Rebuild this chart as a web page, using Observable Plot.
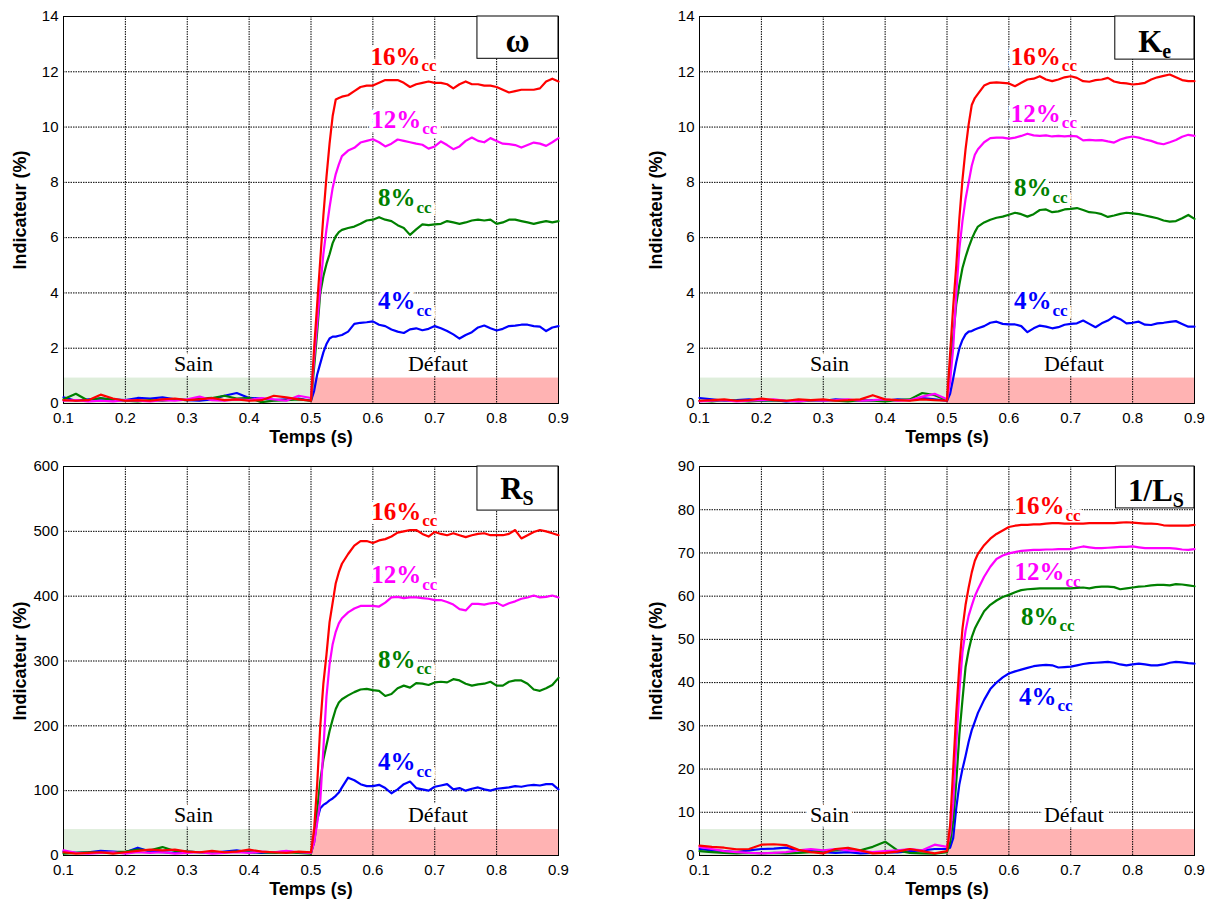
<!DOCTYPE html>
<html>
<head>
<meta charset="utf-8">
<script src="https://cdn.jsdelivr.net/npm/d3@7"></script>
<script src="https://cdn.jsdelivr.net/npm/@observablehq/plot@0.6"></script>
<style>
  body { margin: 0; background: #fff; overflow: hidden; }
  #chart { position: relative; width: 1206px; height: 899px; }
  #chart svg { position: absolute; overflow: visible; }
</style>
</head>
<body>
<div id="chart"></div>
<script>
// ---------- time axis (s) ----------
const time = [0.10,0.12,0.14,0.16,0.18,0.20,0.22,0.24,0.26,0.28,0.30,0.32,0.34,0.36,0.38,0.40,0.42,0.44,0.46,0.48,0.50,
  0.505,0.51,0.515,0.52,0.525,0.53,0.535,0.54,0.545,0.55,
  0.56,0.57,0.58,0.59,0.60,0.61,0.62,0.63,0.64,0.65,0.66,0.67,0.68,0.69,0.70,0.71,0.72,0.73,0.74,0.75,
  0.76,0.77,0.78,0.79,0.80,0.81,0.82,0.83,0.84,0.85,0.86,0.87,0.88,0.89,0.90];

const xTicks = [0.1,0.2,0.3,0.4,0.5,0.6,0.7,0.8,0.9];
const yTicksOmega = [0,2,4,6,8,10,12,14];
const yTicksKe = [0,2,4,6,8,10,12,14];
const yTicksRs = [0,100,200,300,400,500,600];
const yTicksLs = [0,10,20,30,40,50,60,70,80,90];

const seriesNames = ["4%","8%","12%","16%"];
const seriesColors = ["#0000ff","#008000","#ff00ff","#ff0000"];

// ---------- ω panel ----------
const omega4 = [0.22,0.10,0.15,0.18,0.15,0.12,0.20,0.18,0.22,0.15,0.12,0.10,0.15,0.28,0.38,0.20,0.18,0.12,0.15,0.18,0.10,
  0.45,1.05,1.45,1.85,2.15,2.35,2.42,2.42,2.45,2.48,
  2.6,2.88,2.92,2.94,2.97, 2.85,2.8,2.68,2.6,2.55, 2.68,2.72,2.65,2.7,2.8, 2.72,2.62,2.5,2.35,2.48,
  2.58,2.75,2.82,2.72,2.64, 2.7,2.8,2.82,2.85,2.85, 2.8,2.78,2.62,2.75,2.8];
const omega8 = [0.15,0.35,0.10,0.20,0.12,0.10,0.08,0.12,0.10,0.15,0.12,0.18,0.20,0.28,0.18,0.20,0.05,0.10,0.12,0.15,0.10,
  1.3,2.6,4.0,4.6,5.05,5.4,5.8,6.05,6.2,6.28,
  6.35,6.4,6.5,6.62,6.65, 6.74,6.65,6.6,6.45,6.35, 6.1,6.3,6.48,6.45,6.48, 6.5,6.6,6.55,6.5,6.55,
  6.62,6.65,6.62,6.65,6.5, 6.55,6.65,6.65,6.6,6.55, 6.5,6.55,6.6,6.55,6.6];
const omega12 = [0.10,0.12,0.08,0.10,0.08,0.12,0.10,0.08,0.12,0.10,0.15,0.25,0.12,0.10,0.15,0.12,0.20,0.15,0.10,0.28,0.20,
  1.6,2.9,4.2,5.4,6.3,7.1,7.8,8.3,8.65,8.95,
  9.15,9.25,9.44,9.5,9.56, 9.45,9.3,9.4,9.55,9.5, 9.45,9.4,9.36,9.22,9.3, 9.48,9.35,9.2,9.3,9.5,
  9.62,9.5,9.45,9.6,9.5, 9.4,9.38,9.35,9.26,9.35, 9.44,9.4,9.32,9.45,9.6];
const omega16 = [0.12,0.10,0.12,0.32,0.18,0.10,0.12,0.10,0.15,0.18,0.12,0.15,0.20,0.12,0.15,0.10,0.12,0.28,0.22,0.15,0.10,
  2.0,3.6,5.2,6.8,8.2,9.4,10.4,11.0,11.05,11.1,
  11.15,11.3,11.45,11.5,11.5, 11.6,11.7,11.7,11.7,11.6, 11.45,11.55,11.6,11.65,11.6, 11.6,11.55,11.4,11.55,11.65,
  11.55,11.55,11.5,11.5,11.45, 11.35,11.25,11.3,11.35,11.35, 11.35,11.4,11.65,11.75,11.65];

// ---------- Ke panel ----------
const ke4 = [0.20,0.15,0.10,0.12,0.15,0.10,0.12,0.08,0.10,0.12,0.10,0.15,0.12,0.10,0.12,0.10,0.15,0.12,0.20,0.15,0.10,
  0.35,0.9,1.5,2.0,2.3,2.5,2.6,2.62,2.68,2.72,
  2.8,2.92,2.96,2.88,2.86, 2.86,2.8,2.58,2.72,2.82, 2.78,2.72,2.76,2.85,2.88, 2.9,3.0,2.88,2.76,2.9,
  3.0,3.15,3.05,2.9,2.92, 2.96,2.85,2.84,2.9,2.92, 2.95,2.98,2.88,2.78,2.78];
const ke8 = [0.10,0.08,0.12,0.10,0.08,0.10,0.12,0.10,0.08,0.10,0.12,0.10,0.08,0.12,0.10,0.08,0.12,0.15,0.38,0.30,0.12,
  1.2,2.4,3.6,4.3,4.9,5.3,5.65,5.95,6.2,6.4,
  6.55,6.65,6.72,6.76,6.83, 6.9,6.85,6.76,6.85,7.0, 7.02,6.92,6.95,7.02,7.04, 7.07,7.0,6.92,6.9,6.85,
  6.75,6.8,6.86,6.9,6.88, 6.85,6.8,6.75,6.7,6.62, 6.58,6.6,6.7,6.82,6.68];
const ke12 = [0.08,0.10,0.12,0.08,0.10,0.12,0.15,0.10,0.08,0.12,0.10,0.12,0.15,0.10,0.12,0.15,0.10,0.12,0.25,0.35,0.15,
  0.8,2.0,4.0,5.6,6.6,7.4,8.0,8.6,9.0,9.2,
  9.45,9.6,9.62,9.62,9.58, 9.62,9.68,9.76,9.7,9.68, 9.7,9.66,9.68,9.66,9.68, 9.66,9.52,9.54,9.52,9.53,
  9.48,9.44,9.55,9.62,9.66, 9.62,9.55,9.5,9.42,9.38, 9.45,9.53,9.65,9.72,9.68];
const ke16 = [0.10,0.12,0.15,0.10,0.12,0.18,0.12,0.10,0.15,0.12,0.15,0.10,0.12,0.15,0.30,0.15,0.12,0.10,0.15,0.12,0.10,
  1.8,3.5,5.0,6.7,8.1,9.2,10.1,10.8,11.05,11.2,
  11.5,11.6,11.62,11.6,11.58, 11.48,11.6,11.72,11.75,11.84, 11.72,11.66,11.72,11.8,11.84, 11.78,11.66,11.64,11.7,11.72,
  11.78,11.65,11.6,11.58,11.54, 11.56,11.6,11.72,11.8,11.85, 11.9,11.8,11.7,11.66,11.66];

// ---------- Rs panel ----------
const rs4 = [6,4,5,7,6,5,12,6,5,4,6,5,4,6,8,5,4,5,6,5,4,
  20,55,73,78,81,85,88,92,97,105,
  120,116,110,107,107, 109,104,96,102,110, 114,104,102,100,106, 108,110,102,104,100,
  103,105,102,100,103, 104,105,107,106,108, 109,108,110,110,102];
const rs8 = [3,4,5,4,5,6,9,8,13,7,6,5,4,5,6,5,5,4,5,4,3,
  25,70,115,148,170,192,210,226,236,241,
  247,252,256,257,255, 254,246,249,258,262, 259,266,265,263,267, 268,267,272,270,265,
  262,264,265,268,262, 262,268,270,270,265, 256,254,258,263,274];
const rs12 = [8,4,3,4,5,3,5,4,5,3,4,5,3,4,5,4,6,5,7,5,4,
  20,50,85,165,245,295,326,345,358,366,
  375,381,385,385,385, 384,390,398,399,397, 398,398,397,396,394, 394,391,387,380,378,
  388,388,387,389,390, 385,389,392,396,398, 401,398,399,401,398];
const rs16 = [5,3,4,5,3,5,7,9,8,9,6,5,7,5,6,9,6,5,4,6,5,
  40,110,200,265,310,360,390,420,437,450,
  465,478,485,485,482, 486,488,492,498,500, 502,502,496,492,499, 496,494,497,494,491,
  494,496,497,494,494, 494,496,502,489,494, 499,502,500,497,494];

// ---------- 1/Ls panel ----------
const ls4 = [1.5,1.2,1.0,0.8,1.2,1.5,1.6,1.8,1.2,1.0,0.8,0.6,0.8,0.5,0.6,0.8,0.7,1.0,1.2,1.5,1.5,
  1.8,4,11,16.5,20,23,26.3,29,31,33,
  36,38.5,40,41.2,42.1, 42.6,43,43.4,43.8,44, 44.1,44,43.5,43.6,43.7, 44,44.3,44.5,44.6,44.7,
  44.8,44.6,44.2,44,44.2, 44.4,44.2,44,44,44.2, 44.6,44.8,44.7,44.5,44.4];
const ls8 = [1.0,0.8,0.6,0.5,0.6,0.5,0.6,0.5,0.6,0.8,1.0,1.2,1.4,1.2,2.0,3.2,1.2,0.6,0.5,0.4,0.8,
  3,8,17,28,36,43.6,47.5,50.5,52.5,53.9,
  56.5,58,59,59.8,60.3, 60.9,61.4,61.6,61.7,61.8, 61.8,61.8,61.8,61.8,61.8, 61.9,62,61.8,62.1,62.2,
  62.2,62.1,61.6,61.8,62, 62.2,62.3,62.5,62.6,62.6, 62.5,62.8,62.7,62.5,62.3];
const ls12 = [2.0,1.5,1.0,0.8,0.6,0.5,0.6,0.8,1.2,1.5,1.2,1.5,1.2,1.0,0.8,1.0,1.2,1.5,1.2,2.5,2.0,
  5,12,26,38,47,52,55.5,57.8,60,61.6,
  64.5,66.8,68.6,69.4,69.9, 70.2,70.5,70.6,70.7,70.7, 70.8,70.8,70.9,70.9,70.9, 71.2,71.5,71.3,71.1,71.1,
  71.2,71.3,71.4,71.4,71.5, 71.3,71.1,71.1,71.1,71.1, 71.1,71,70.8,70.7,70.9];
const ls16 = [2.3,2.0,1.8,1.4,1.5,2.5,2.6,2.4,1.3,0.8,0.5,1.5,1.8,1.2,0.5,0.6,0.9,1.5,1.0,0.5,1.0,
  7,20,33,44,52.5,58,62,65.5,68.2,69.8,
  71.8,73.3,74.4,75.2,76, 76.3,76.5,76.5,76.6,76.6, 76.8,76.9,76.9,76.8,76.8, 76.8,76.8,76.9,76.9,76.9,
  76.9,76.9,77,77.1,77, 76.9,76.8,76.8,76.7,76.4, 76.3,76.3,76.3,76.3,76.5];

// ---------- annotations (data coordinates) ----------
const omegaLabels = [{s:"4%",t:0.669,v:3.69},{s:"8%",t:0.669,v:7.43},{s:"12%",t:0.678,v:10.26},{s:"16%",t:0.677,v:12.54}];
const keLabels = [{s:"4%",t:0.669,v:3.69},{s:"8%",t:0.669,v:7.79},{s:"12%",t:0.684,v:10.49},{s:"16%",t:0.684,v:12.55}];
const rsLabels = [{s:"4%",t:0.669,v:144},{s:"8%",t:0.669,v:302},{s:"12%",t:0.678,v:432},{s:"16%",t:0.678,v:530}];
const lsLabels = [{s:"4%",t:0.677,v:36.7},{s:"8%",t:0.68,v:55.2},{s:"12%",t:0.69,v:65.5},{s:"16%",t:0.69,v:80.8}];

const omegaTitle = {x1:0.769,x2:0.9,y1:12.47,y2:14, main:"ω", sub:"", t:0.834, v:13.1};
const keTitle = {x1:0.772,x2:0.9,y1:12.44,y2:14, main:"K", sub:"e", t:0.848, v:13.06};
const rsTitle = {x1:0.769,x2:0.9,y1:532,y2:600, main:"R", sub:"S", t:0.842, v:565};
const lsTitle = {x1:0.773,x2:0.9,y1:80.3,y2:90, main:"1/L", sub:"S", t:0.865, v:84.2};

const zoneNames = ["Sain","Défaut"];
const zoneCenters = [0.31, 0.705];

const panels = [
  {left:0, top:0, width:603, height:451, mt:16, mb:48, mr:45, yDomain:[0,14], yTicks:yTicksOmega,
   series:[omega4,omega8,omega12,omega16], zoneTop:0.92, zoneTextY:1.44, labels:omegaLabels, title:omegaTitle},
  {left:636, top:0, width:570, height:451, mt:16, mb:48, mr:12, yDomain:[0,14], yTicks:yTicksKe,
   series:[ke4,ke8,ke12,ke16], zoneTop:0.92, zoneTextY:1.44, labels:keLabels, title:keTitle},
  {left:0, top:451, width:603, height:448, mt:15, mb:44, mr:45, yDomain:[0,600], yTicks:yTicksRs,
   series:[rs4,rs8,rs12,rs16], zoneTop:40, zoneTextY:62.5, labels:rsLabels, title:rsTitle},
  {left:636, top:451, width:570, height:448, mt:15, mb:44, mr:12, yDomain:[0,90], yTicks:yTicksLs,
   series:[ls4,ls8,ls12,ls16], zoneTop:6, zoneTextY:9.45, labels:lsLabels, title:lsTitle}
];

const SERIF = "'Liberation Serif', 'Times New Roman', serif";
const SANS = "'Liberation Sans', Arial, sans-serif";

function makePanel(p) {
  const y0 = p.yDomain[0];
  const zones = [
    {x1:0.1, x2:0.5, y1:y0, y2:p.zoneTop},
    {x1:0.5, x2:0.9, y1:y0, y2:p.zoneTop}
  ];
  const zoneText = zoneNames.map((s, i) => ({s, t: zoneCenters[i], v: p.zoneTextY}));
  const lineMarks = p.series.map((vals, i) =>
    Plot.line(vals.map((v, j) => ({t: time[j], v})), {x: "t", y: "v", stroke: seriesColors[i], strokeWidth: 2.2})
  );
  const labelData = p.labels.map(d => ({...d, color: seriesColors[seriesNames.indexOf(d.s)]}));
  const T = p.title;
  const gridStyle = {stroke:"#000", strokeWidth:1, strokeDasharray:"1.5,1", strokeOpacity:1};
  const marks = [
    Plot.rect([zones[0]], {x1:"x1", x2:"x2", y1:"y1", y2:"y2", fill:"#dfeedc"}),
    Plot.rect([zones[1]], {x1:"x1", x2:"x2", y1:"y1", y2:"y2", fill:"#ffb3b3"}),
    Plot.ruleX(xTicks, gridStyle),
    Plot.ruleY(p.yTicks, gridStyle),
    Plot.frame({stroke:"#000", strokeWidth:1}),
    Plot.text(zoneText, {x:"t", y:"v", text:"s", fontFamily:SERIF, fontSize:22, fill:"#000",
      stroke:"#fff", strokeWidth:10, paintOrder:"stroke", strokeLinejoin:"round"}),
    Plot.text(labelData, {x:"t", y:"v", text:"s", fill:"color", textAnchor:"end", fontFamily:SERIF,
      fontWeight:"bold", fontSize:25, stroke:"#fff", strokeWidth:8, paintOrder:"stroke", strokeLinejoin:"round"}),
    Plot.text(labelData, {x:"t", y:"v", text: () => "cc", fill:"color", textAnchor:"start", dx:1, dy:9,
      fontFamily:SERIF, fontWeight:"bold", fontSize:17, stroke:"#fff", strokeWidth:8, paintOrder:"stroke", strokeLinejoin:"round"}),
    ...lineMarks,
    Plot.rect([T], {x1:"x1", x2:"x2", y1:"y1", y2:"y2", fill:"#fff", stroke:"#000", strokeWidth:1}),
    Plot.text([T], {x:"t", y:"v", text:"main", textAnchor: T.sub ? "end" : "middle", fontFamily:SERIF,
      fontWeight:"bold", fontSize: T.sub ? 31 : 33, fill:"#000"}),
    Plot.text([T], {x:"t", y:"v", text:"sub", textAnchor:"start", dy:9, fontFamily:SERIF,
      fontWeight:"bold", fontSize:20, fill:"#000"}),
    Plot.text(["Indicateur (%)"], {frameAnchor:"left", textAnchor:"middle", lineAnchor:"middle", rotate:-90, dx:-43,
      fontFamily:SANS, fontWeight:"bold", fontSize:18, fill:"#000"}),
    Plot.text(["Temps (s)"], {frameAnchor:"bottom", textAnchor:"middle", lineAnchor:"middle", dy:34,
      fontFamily:SANS, fontWeight:"bold", fontSize:18, fill:"#000"})
  ];
  const svg = Plot.plot({
    width: p.width, height: p.height,
    marginLeft: 63, marginRight: p.mr, marginTop: p.mt, marginBottom: p.mb,
    style: {fontFamily: SANS, fontSize: "15px", color: "#000", background: "transparent", overflow: "visible"},
    x: {domain: [0.1, 0.9], ticks: xTicks, tickSize: 0, tickPadding: 9, label: null, tickFormat: d => d.toFixed(1)},
    y: {domain: p.yDomain, ticks: p.yTicks, tickSize: 0, tickPadding: 5, label: null},
    marks
  });
  svg.style.left = p.left + "px";
  svg.style.top = p.top + "px";
  return svg;
}

const chart = document.getElementById("chart");
panels.forEach(p => chart.appendChild(makePanel(p)));
</script>
</body>
</html>
